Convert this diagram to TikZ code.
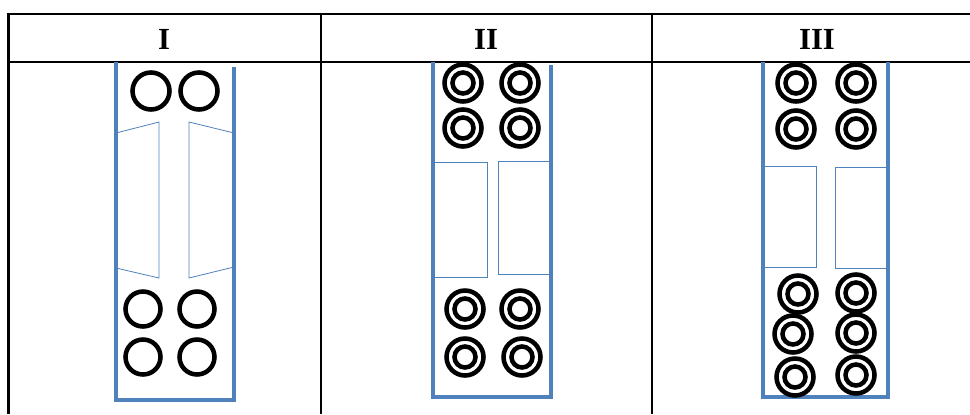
\documentclass[tikz,border=0pt]{standalone}
\usepackage{fontspec}
\setmainfont{Liberation Serif}
\usetikzlibrary{positioning}
\definecolor{tubeblue}{RGB}{79,129,189}
\tikzset{
  grid/.style={line width=1.6pt, draw=black},
  hdr/.style={font=\fontsize{23}{26}\selectfont\bfseries, inner sep=0pt},
  tube/.style={line width=2.3pt, draw=tubeblue},
  plate/.style={line width=0.6pt, draw=tubeblue},
  ring/.style={line width=3.4pt, draw=black},
}

\begin{document}
\begin{tikzpicture}[x=0.75pt, y=-0.75pt]
\useasboundingbox (0,0) rectangle (970,414);

% ============================ table frame ===============================
\draw[grid] (8.5,414) -- (8.5,14) -- (970,14);
\draw[grid] (8.5,62) -- (970,62);
\draw[grid] (321,14) -- (321,414);
\draw[grid] (652,14) -- (652,414);

% ============================ column headers ============================
\node[hdr] (hI)   at (164,39) {I};
\node[hdr] (hII)  at (486,39) {II};
\node[hdr] (hIII) at (817,39) {III};

% ============================ column I ==================================
\draw[tube] (116,62) -- (116,400) -- (234,400) -- (234,67);
\draw[plate] (116,133) -- (159,122) -- (159,278) -- (116,268);
\draw[plate] (234,133) -- (189,122) -- (189,278) -- (234,267);
\foreach \p in {(151,91),(199,91)}
  \draw[ring] \p circle[radius=18.5];
\foreach \p in {(143,309),(197,309),(143,357),(197,357)}
  \draw[ring] \p circle[radius=17.5];

% ============================ column II =================================
\draw[tube] (433,62) -- (433,397) -- (551,397) -- (551,65);
\draw[plate] (434,162) rectangle (487,277);
\draw[plate] (498,161) rectangle (550,274);
\foreach \p in {(463,83),(520,83),(463,128),(520,128),
                (465,309),(520,309),(465,357),(522,357)}
  \draw[ring] \p circle[radius=18.5] \p circle[radius=10.5];

% ============================ column III ================================
\draw[tube] (763,62) -- (763,397) -- (888,397) -- (888,62);
\draw[plate] (763,166) rectangle (816,267);
\draw[plate] (835,167) rectangle (887,268);
\foreach \p in {(796,83),(856,83),(796,129),(856,129),
                (798,294),(856,293),(793,334),(856,333),(795,377),(856,375)}
  \draw[ring] \p circle[radius=18.5] \p circle[radius=10.5];

\end{tikzpicture}
\end{document}
